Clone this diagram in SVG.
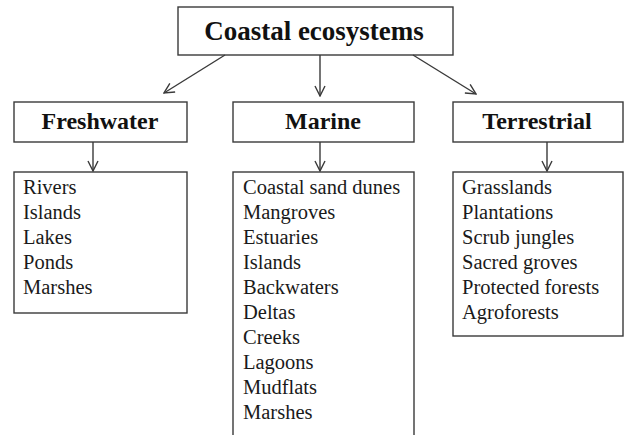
<svg xmlns="http://www.w3.org/2000/svg" width="626" height="435" viewBox="0 0 626 435">
<style>
.box{fill:#fff;stroke:#3a3a3a;stroke-width:1.4}
.h{font-family:"Liberation Serif","Times New Roman",serif;font-weight:bold;fill:#111;text-anchor:middle}
.t{font-family:"Liberation Serif","Times New Roman",serif;font-size:20.5px;fill:#1a1a1a}
.c{stroke:#3a3a3a;stroke-width:1.4;fill:none;marker-end:url(#ah)}
</style>
<defs>
<marker id="ah" viewBox="0 0 12 12" refX="11" refY="6" markerWidth="12" markerHeight="12" markerUnits="userSpaceOnUse" orient="auto">
<path d="M1,1 L11,6 L1,11" fill="none" stroke="#3a3a3a" stroke-width="1.4"/>
</marker>
</defs>
<rect width="626" height="435" fill="#fff"/>
<g id="root">
<rect class="box" x="178" y="7" width="275" height="48"/>
<text class="h" x="314" y="40" font-size="27">Coastal ecosystems</text>
</g>
<g id="freshwater">
<rect class="box" x="14" y="102" width="173" height="40"/>
<text class="h" x="100" y="129" font-size="24">Freshwater</text>
</g>
<g id="marine">
<rect class="box" x="233" y="102" width="181" height="40"/>
<text class="h" x="323" y="129" font-size="24">Marine</text>
</g>
<g id="terrestrial">
<rect class="box" x="453" y="102" width="170" height="40"/>
<text class="h" x="537" y="129" font-size="24">Terrestrial</text>
</g>
<g id="freshwater-list">
<rect class="box" x="14" y="172" width="173" height="141"/>
<text class="t" x="23" y="194">Rivers</text>
<text class="t" x="23" y="219">Islands</text>
<text class="t" x="23" y="244">Lakes</text>
<text class="t" x="23" y="269">Ponds</text>
<text class="t" x="23" y="294">Marshes</text>
</g>
<g id="marine-list">
<rect class="box" x="233" y="172" width="181" height="270"/>
<text class="t" x="243" y="194">Coastal sand dunes</text>
<text class="t" x="243" y="219">Mangroves</text>
<text class="t" x="243" y="244">Estuaries</text>
<text class="t" x="243" y="269">Islands</text>
<text class="t" x="243" y="294">Backwaters</text>
<text class="t" x="243" y="319">Deltas</text>
<text class="t" x="243" y="344">Creeks</text>
<text class="t" x="243" y="369">Lagoons</text>
<text class="t" x="243" y="394">Mudflats</text>
<text class="t" x="243" y="419">Marshes</text>
</g>
<g id="terrestrial-list">
<rect class="box" x="453" y="172" width="170" height="164"/>
<text class="t" x="462" y="194">Grasslands</text>
<text class="t" x="462" y="219">Plantations</text>
<text class="t" x="462" y="244">Scrub jungles</text>
<text class="t" x="462" y="269">Sacred groves</text>
<text class="t" x="462" y="294">Protected forests</text>
<text class="t" x="462" y="319">Agroforests</text>
</g>
<g id="connectors">
<line class="c" x1="225" y1="55" x2="164" y2="93"/>
<line class="c" x1="320" y1="55" x2="320" y2="96"/>
<line class="c" x1="413" y1="55" x2="476" y2="94"/>
<line class="c" x1="93" y1="142" x2="93" y2="171"/>
<line class="c" x1="320" y1="142" x2="320" y2="171"/>
<line class="c" x1="547" y1="142" x2="547" y2="171"/>
</g>
</svg>
